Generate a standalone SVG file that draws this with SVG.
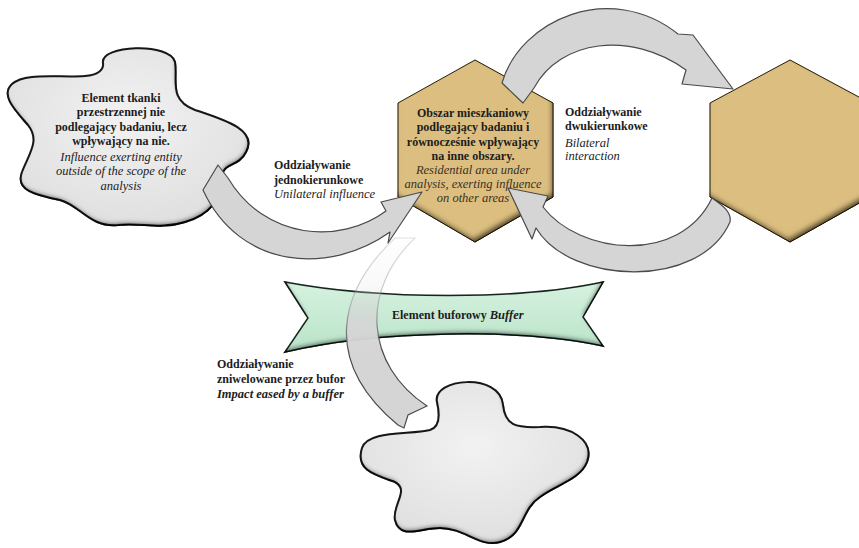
<svg xmlns="http://www.w3.org/2000/svg" width="859" height="548" viewBox="0 0 859 548">
<style>
text{font-family:"Liberation Serif","Times New Roman",serif;font-size:12px;fill:#1c1c1c}
.b{font-weight:bold}
.i{font-style:italic;font-size:12.5px}
.c{text-anchor:middle}
.blob{fill:url(#gBlob);stroke:#1e1e1e;stroke-width:2;filter:url(#inner)}
.hex{fill:#dcbf80;stroke:#2a2010;stroke-width:1;filter:url(#innerH)}
.buf{fill:url(#gBuf);stroke:#1e2a22;stroke-width:1.5;filter:url(#inner)}
.arr{fill:#d5d5d5;stroke:#4a4a4a;stroke-width:1.2;stroke-linejoin:round}
.hx{fill:#3a3020}
</style>
<defs>
<radialGradient id="gBlob" cx="50%" cy="40%" r="65%">
<stop offset="0" stop-color="#f2f2f2"/><stop offset="1" stop-color="#dedede"/>
</radialGradient>
<linearGradient id="gBuf" x1="0" y1="0" x2="0" y2="1">
<stop offset="0" stop-color="#d6f2e0"/><stop offset="1" stop-color="#b9e3c8"/>
</linearGradient>
<linearGradient id="gFade" gradientUnits="userSpaceOnUse" x1="0" y1="235" x2="0" y2="350">
<stop offset="0" stop-color="#d5d5d5" stop-opacity="0"/><stop offset="0.45" stop-color="#d5d5d5" stop-opacity="0.15"/><stop offset="0.75" stop-color="#d5d5d5" stop-opacity="0.9"/><stop offset="1" stop-color="#d5d5d5"/>
</linearGradient>
<linearGradient id="gFadeS" gradientUnits="userSpaceOnUse" x1="0" y1="235" x2="0" y2="350">
<stop offset="0" stop-color="#888" stop-opacity="0.25"/><stop offset="0.6" stop-color="#888" stop-opacity="0.5"/><stop offset="1" stop-color="#4a4a4a"/>
</linearGradient>
<filter id="inner" x="-5%" y="-5%" width="110%" height="110%">
<feGaussianBlur in="SourceAlpha" stdDeviation="2" result="b"/>
<feOffset in="b" dx="-1.5" dy="-3" result="o"/>
<feComposite in="SourceAlpha" in2="o" operator="out" result="edge"/>
<feFlood flood-color="#000" flood-opacity="0.85"/>
<feComposite in2="edge" operator="in" result="sh"/>
<feMerge><feMergeNode in="SourceGraphic"/><feMergeNode in="sh"/></feMerge>
</filter>
<filter id="innerH" x="-5%" y="-5%" width="110%" height="110%">
<feGaussianBlur in="SourceAlpha" stdDeviation="2.5" result="b"/>
<feOffset in="b" dx="-2.5" dy="-4" result="o"/>
<feComposite in="SourceAlpha" in2="o" operator="out" result="edge"/>
<feFlood flood-color="#1a1206" flood-opacity="0.9"/>
<feComposite in2="edge" operator="in" result="sh"/>
<feMerge><feMergeNode in="SourceGraphic"/><feMergeNode in="sh"/></feMerge>
</filter>
</defs>
<rect width="859" height="548" fill="#fff"/>

<g id="entity-outside">
<path class="blob" d="M103,63 C100,45 170,42 175,62 C178,80 168,100 195,110 C225,120 258,130 246,152 C238,168 222,162 222,178 C222,198 210,215 185,222 C160,230 140,222 118,225 C90,228 80,205 60,200 C35,195 15,190 22,172 C30,152 40,140 28,125 C15,110 0,95 12,84 C25,72 60,78 85,76 C98,75 104,70 103,63 Z"/>
<text class="b c" x="121" y="102">Element tkanki</text>
<text class="b c" x="121" y="116">przestrzennej nie</text>
<text class="b c" x="121" y="131">podlegający badaniu, lecz</text>
<text class="b c" x="121" y="145">wpływający na nie.</text>
<text class="i c" x="121" y="161">Influence exerting entity</text>
<text class="i c" x="121" y="175">outside of the scope of the</text>
<text class="i c" x="121" y="190">analysis</text>
</g>

<g id="residential-area">
<polygon class="hex" points="475,60 553,103 553,197 475,242 398,197 398,103"/>
<text class="b c" x="473" y="117">Obszar mieszkaniowy</text>
<text class="b c" x="473" y="131">podlegający badaniu i</text>
<text class="b c" x="473" y="146">równocześnie wpływający</text>
<text class="b c" x="473" y="160">na inne obszary.</text>
<text class="i c hx" x="473" y="174">Residential area under</text>
<text class="i c hx" x="473" y="188">analysis, exerting influence</text>
<text class="i c hx" x="473" y="202">on other areas</text>
</g>

<g id="other-area">
<polygon class="hex" points="790,60 870,103 870,197 790,242 710,197 710,103"/>
</g>

<g id="buffer">
<path class="buf" d="M285,282 C380,300 520,300 603,282 L583,317 L603,346 C520,328 380,330 285,352 L308,318 Z"/>
<text class="b" x="392" y="319">Element buforowy <tspan class="i">Buffer</tspan></text>
</g>

<g id="other-entity">
<path class="blob" d="M437,402 C432,378 500,372 503,405 C505,425 515,428 540,427 C570,425 595,440 587,462 C580,480 555,485 540,497 C520,510 525,535 500,542 C480,548 465,528 440,528 C420,528 400,540 395,520 C392,505 410,490 395,482 C375,475 355,470 362,448 C368,430 410,435 430,430 C440,427 440,415 437,402 Z"/>
</g>

<g id="connectors">
<path class="arr" d="M422,192 L388,243 L390,232 C330,275 240,270 203,190 L218,165 L228,178 C265,240 340,245 386,211 L381,202 Z"/>
<path class="arr" d="M502,83 C520,20 610,-20 678,34 L693,35 L733,89 L682,84 L686,70 C630,30 560,40 534,88 L523,103 Z"/>
<path class="arr" d="M508,188 L548,196 L543,207 C580,255 680,265 712,198 C722,205 732,212 730,222 C700,290 570,285 536,228 L532,239 Z"/>
<path d="M395,238 C340,290 320,360 398,425 L404,428 L408,415 L427,406 C365,365 360,290 415,238 Z" fill="url(#gFade)" stroke="url(#gFadeS)" stroke-width="1.2"/>
</g>

<g id="labels">
<text class="b" x="274" y="169">Oddziaływanie</text>
<text class="b" x="274" y="184">jednokierunkowe</text>
<text class="i" x="274" y="198">Unilateral influence</text>
<text class="b" x="565" y="116">Oddziaływanie</text>
<text class="b" x="565" y="130">dwukierunkowe</text>
<text class="i" x="565" y="147">Bilateral</text>
<text class="i" x="565" y="160">interaction</text>
<text class="b" x="217" y="368">Oddziaływanie</text>
<text class="b" x="217" y="383">zniwelowane przez bufor</text>
<text class="b i" x="217" y="398">Impact eased by a buffer</text>
</g>
</svg>
